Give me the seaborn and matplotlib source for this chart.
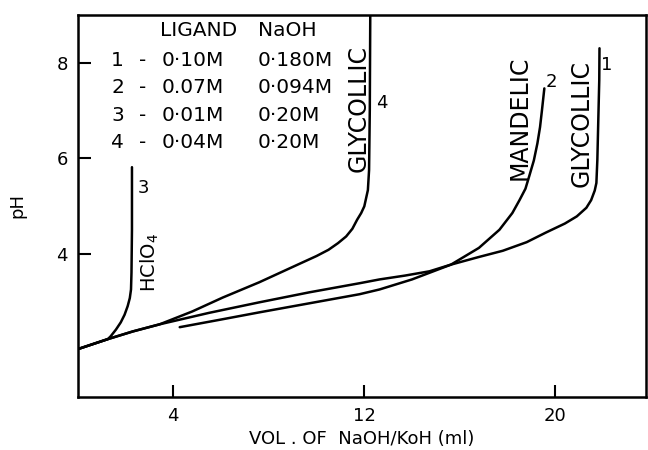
import matplotlib
matplotlib.use("Agg")
import matplotlib.pyplot as plt
import seaborn as sns

# curve 1 - glycollic (0.10M ligand, 0.180M NaOH)
vol_1 = [0, 0.6, 1.26, 2.3, 3.43, 5.5, 7.6, 9.7, 11.8, 12.64, 13.7, 14.73, 15.63, 16.8, 17.8, 18.8,
         19.6, 20.4, 20.9, 21.3, 21.5, 21.65, 21.72, 21.76, 21.8, 21.84, 21.85]
ph_1 = [2.0, 2.1, 2.21, 2.37, 2.52, 2.76, 2.98, 3.19, 3.38, 3.46, 3.54, 3.63, 3.77, 3.93, 4.06, 4.24,
        4.44, 4.63, 4.78, 4.96, 5.12, 5.32, 5.48, 5.96, 6.8, 7.63, 8.3]

# curve 2 - mandelic (0.07M ligand, 0.094M NaOH)
vol_2 = [4.27, 6.0, 7.6, 9.7, 11.8, 12.64, 14.0, 15.63, 16.8, 17.66, 18.2, 18.5,
         18.75, 18.9, 19.1, 19.25, 19.36, 19.44, 19.54]
ph_2 = [2.46, 2.62, 2.77, 2.96, 3.15, 3.25, 3.46, 3.77, 4.12, 4.5, 4.85, 5.12,
        5.36, 5.61, 5.95, 6.31, 6.65, 7.0, 7.46]

# curve 3 - HClO4 (0.01M, 0.20M NaOH)
vol_3 = [0, 0.6, 1.26, 1.38, 1.6, 1.8, 1.96, 2.09, 2.18, 2.23, 2.25, 2.27, 2.27]
ph_3 = [2.0, 2.1, 2.21, 2.27, 2.41, 2.56, 2.72, 2.9, 3.07, 3.25, 3.6, 4.5, 5.81]

# curve 4 - glycollic (0.04M ligand, 0.20M NaOH)
vol_4 = [0, 0.6, 1.26, 2.3, 3.43, 4.8, 6.07, 7.6, 9.3, 10.0, 10.5, 10.9, 11.24, 11.5,
         11.7, 11.87, 12.0, 12.15, 12.2, 12.23, 12.25]
ph_4 = [2.0, 2.1, 2.21, 2.37, 2.52, 2.79, 3.08, 3.4, 3.79, 3.95, 4.08, 4.22, 4.36, 4.52,
        4.71, 4.85, 4.99, 5.33, 5.75, 7.0, 9.0]

table_cols = ["LIGAND", "NaOH"]
table_nums = ["1", "2", "3", "4"]
table_ligand = ["0·10M", "0.07M", "0·01M", "0·04M"]
table_naoh = ["0·180M", "0·094M", "0·20M", "0·20M"]

sns.set_style("ticks")
plt.rcParams["font.family"] = ["DejaVu Sans"]
plt.rcParams["text.color"] = "black"
plt.rcParams["axes.labelcolor"] = "black"

fig = plt.figure(figsize=(6.48, 4.5), dpi=100)
ax = fig.add_axes([0.12, 0.118, 0.877, 0.849])

for xs, ys in [(vol_1, ph_1), (vol_2, ph_2), (vol_3, ph_3), (vol_4, ph_4)]:
    sns.lineplot(x=xs, y=ys, ax=ax, sort=False, estimator=None,
                 color="black", linewidth=1.8)

ax.set_xlim(0, 23.8)
ax.set_ylim(1, 9)
ax.set_xticks([4, 12, 20])
ax.set_yticks([4, 6, 8])
ax.tick_params(direction="in", length=9, width=1.5, labelsize=13,
               colors="black", pad=7)
for s in ax.spines.values():
    s.set_linewidth(1.8)
    s.set_color("black")

ax.set_xlabel("VOL . OF  NaOH/KoH (ml)", fontsize=13, labelpad=4)
ax.set_ylabel("pH", fontsize=13, labelpad=22)

# ligand table
tfs = 14.5
ax.text(3.43, 8.67, table_cols[0], fontsize=tfs, va="center")
ax.text(7.53, 8.67, table_cols[1], fontsize=tfs, va="center")
rows_y = [8.04, 7.48, 6.9, 6.33]
for y, n, lig, na in zip(rows_y, table_nums, table_ligand, table_naoh):
    ax.text(1.67, y, n, fontsize=tfs, ha="center", va="center")
    ax.text(2.72, y, "-", fontsize=tfs, ha="center", va="center")
    ax.text(3.51, y, lig, fontsize=tfs, va="center")
    ax.text(7.53, y, na, fontsize=tfs, va="center")

# curve labels
ax.text(11.75, 7.04, "GLYCOLLIC", rotation=90, fontsize=17, ha="center", va="center")
ax.text(12.75, 7.15, "4", fontsize=13, ha="center", va="center")
ax.text(18.5, 6.85, "MANDELIC", rotation=90, fontsize=17, ha="center", va="center")
ax.text(19.85, 7.6, "2", fontsize=13, ha="center", va="center")
ax.text(21.1, 6.73, "GLYCOLLIC", rotation=90, fontsize=17, ha="center", va="center")
ax.text(22.15, 7.94, "1", fontsize=13, ha="center", va="center")
ax.text(2.75, 5.37, "3", fontsize=13, ha="center", va="center")
ax.text(3.0, 3.81, "HClO$_4$", rotation=90, fontsize=14, ha="center", va="center")

fig.savefig("out.png", dpi=100)
